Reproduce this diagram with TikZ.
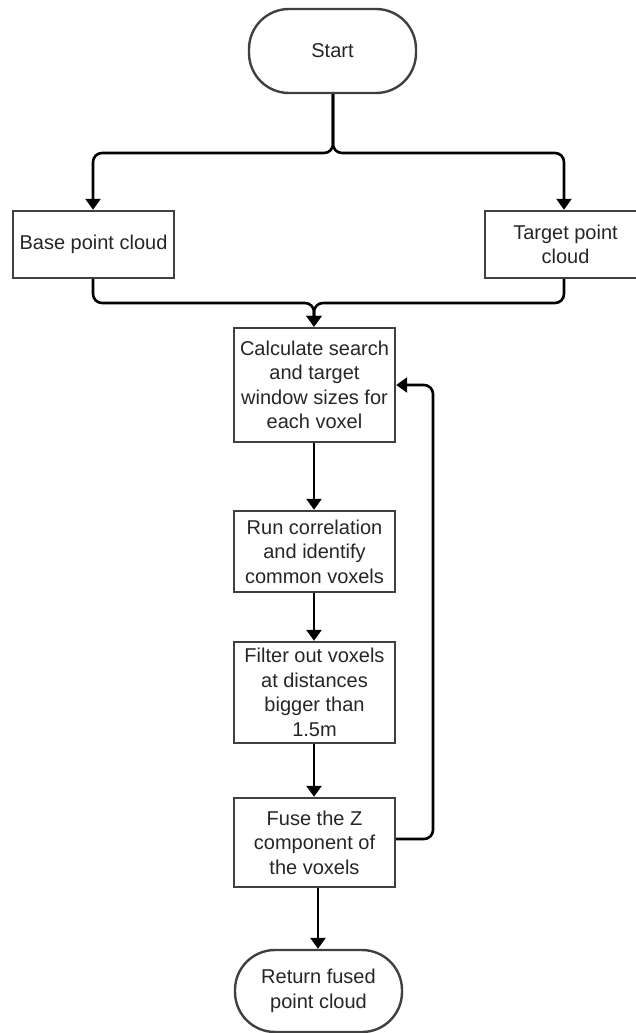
\documentclass[tikz,border=0pt]{standalone}
\usepackage{fontspec}
\setmainfont{Liberation Sans}
\usetikzlibrary{arrows.meta}

\tikzset{
  boxstyle/.style={draw=black!75, line width=2.4pt, fill=white, inner sep=0pt,
    align=center, text=black!85, font=\fontsize{20}{24.5}\selectfont},
  procbox/.style={boxstyle, rectangle, minimum width=161pt},
  termbox/.style={boxstyle, rectangle, rounded corners=40pt, minimum width=167pt},
  flow/.style={draw=black, line width=2.6pt, rounded corners=9pt,
    -{Triangle[width=15pt,length=11pt]}},
}

\begin{document}
\begin{tikzpicture}[x=1pt,y=-1pt]
  \useasboundingbox (0,0) rectangle (636,1033);
  \clip (0,0) rectangle (636,1033);

  % nodes
  \node[termbox, minimum height=84pt] (start) at (332.5,51) {Start};
  \node[procbox, minimum height=67pt] (base) at (93.5,244.5) {Base point cloud};
  \node[procbox, minimum height=67pt] (target) at (565.5,244.5) {Target point\\cloud};
  \node[procbox, minimum height=114pt] (calc) at (314.5,385)
    {Calculate search\\and target\\window sizes for\\each voxel};
  \node[procbox, minimum height=81pt] (run) at (314.5,551.5)
    {Run correlation\\and identify\\common voxels};
  \node[procbox, minimum height=101pt] (filter) at (314.5,692.5)
    {Filter out voxels\\at distances\\bigger than\\1.5m};
  \node[procbox, minimum height=89pt] (fuse) at (314.5,842.5)
    {Fuse the Z\\component of\\the voxels};
  \node[termbox, minimum height=82pt] (ret) at (318.5,991)
    {Return fused\\point cloud};

  % split and merge points
  \coordinate (split) at (333,153);
  \coordinate (merge) at (314,303);
  \coordinate (loop) at (433,839);

  % connectors
  \draw[flow] (start.south -| split) -- (split) -| (base.north -| 93,0);
  \draw[flow] (start.south -| split) -- (split) -| (target.north -| 564,0);
  \draw[flow] (base.south -| 93,0) |- (merge) -- (calc.north -| merge);
  \draw[flow] (target.south -| 564,0) |- (merge) -- (calc.north -| merge);
  \draw[flow] (calc.south -| merge) -- (run.north -| merge);
  \draw[flow] (run.south -| merge) -- (filter.north -| merge);
  \draw[flow] (filter.south -| merge) -- (fuse.north -| merge);
  \draw[flow] (fuse.south -| 318,0) -- (ret.north -| 318,0);
  \draw[flow] (fuse.east |- loop) -- (loop) |- (calc.east);
\end{tikzpicture}
\end{document}
